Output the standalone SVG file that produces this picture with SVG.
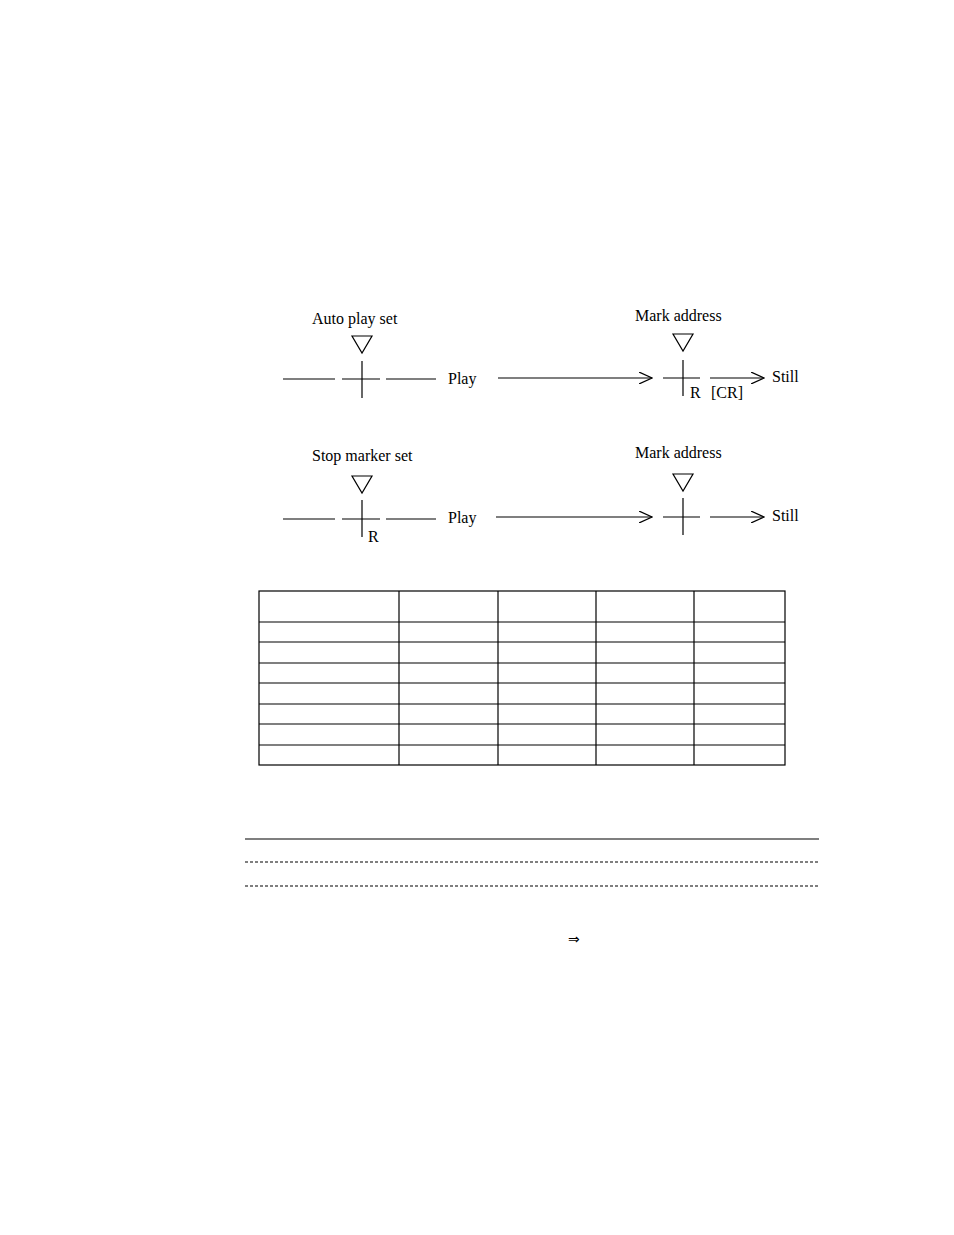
<svg xmlns="http://www.w3.org/2000/svg" width="954" height="1235" viewBox="0 0 954 1235">
<style>
line,path,rect{stroke:#000;stroke-width:1.2;fill:none}
text{font-family:"Liberation Serif",serif;font-size:16px;fill:#000}
.d{stroke-dasharray:3,2}
</style>
<defs><marker id="a" markerWidth="14" markerHeight="12" refX="13" refY="6" orient="auto" markerUnits="userSpaceOnUse"><path d="M0,0 L13,6 L0,12" style="stroke-width:1.2"/></marker></defs>
<rect x="0" y="0" width="954" height="1235" style="fill:#fff;stroke:none"/>
<g id="row1">
<text x="312" y="324">Auto play set</text>
<path d="M352,336 h20 l-10,17 z"/>
<line x1="283" y1="379" x2="335" y2="379"/>
<line x1="342" y1="379" x2="380" y2="379"/>
<line x1="362" y1="361" x2="362" y2="398"/>
<line x1="386" y1="379" x2="436" y2="379"/>
<text x="448" y="384">Play</text>
<text x="635" y="321">Mark address</text>
<path d="M673,334 h20 l-10,17 z"/>
<line x1="663" y1="378" x2="700" y2="378"/>
<line x1="683" y1="360" x2="683" y2="396"/>
<text x="690" y="398">R</text>
<text x="711" y="398">[CR]</text>
<text x="772" y="382">Still</text>
</g>
<g id="row2">
<text x="312" y="461">Stop marker set</text>
<path d="M352,476 h20 l-10,17 z"/>
<line x1="283" y1="519" x2="335" y2="519"/>
<line x1="342" y1="519" x2="380" y2="519"/>
<line x1="362" y1="500" x2="362" y2="537"/>
<text x="368" y="542">R</text>
<line x1="386" y1="519" x2="436" y2="519"/>
<text x="448" y="523">Play</text>
<text x="635" y="458">Mark address</text>
<path d="M673,474 h20 l-10,17 z"/>
<line x1="663" y1="517" x2="700" y2="517"/>
<line x1="683" y1="498" x2="683" y2="535"/>
<text x="772" y="521">Still</text>
</g>
<g id="connectors">
<line x1="498" y1="378" x2="652" y2="378" marker-end="url(#a)"/>
<line x1="710" y1="378" x2="764" y2="378" marker-end="url(#a)"/>
<line x1="496" y1="517" x2="652" y2="517" marker-end="url(#a)"/>
<line x1="710" y1="517" x2="764" y2="517" marker-end="url(#a)"/>
</g>
<g id="table">
<rect x="259" y="591" width="526" height="174"/>
<line x1="259" y1="622" x2="785" y2="622"/>
<line x1="259" y1="642" x2="785" y2="642"/>
<line x1="259" y1="663" x2="785" y2="663"/>
<line x1="259" y1="683" x2="785" y2="683"/>
<line x1="259" y1="704" x2="785" y2="704"/>
<line x1="259" y1="724" x2="785" y2="724"/>
<line x1="259" y1="745" x2="785" y2="745"/>
<line x1="399" y1="591" x2="399" y2="765"/>
<line x1="498" y1="591" x2="498" y2="765"/>
<line x1="596" y1="591" x2="596" y2="765"/>
<line x1="694" y1="591" x2="694" y2="765"/>
</g>
<line x1="245" y1="839" x2="819" y2="839"/>
<line class="d" x1="245" y1="862" x2="819" y2="862"/>
<line class="d" x1="245" y1="886" x2="819" y2="886"/>
<text x="568" y="944" style="font-size:14px;font-family:'DejaVu Sans',sans-serif">⇒</text>
</svg>
